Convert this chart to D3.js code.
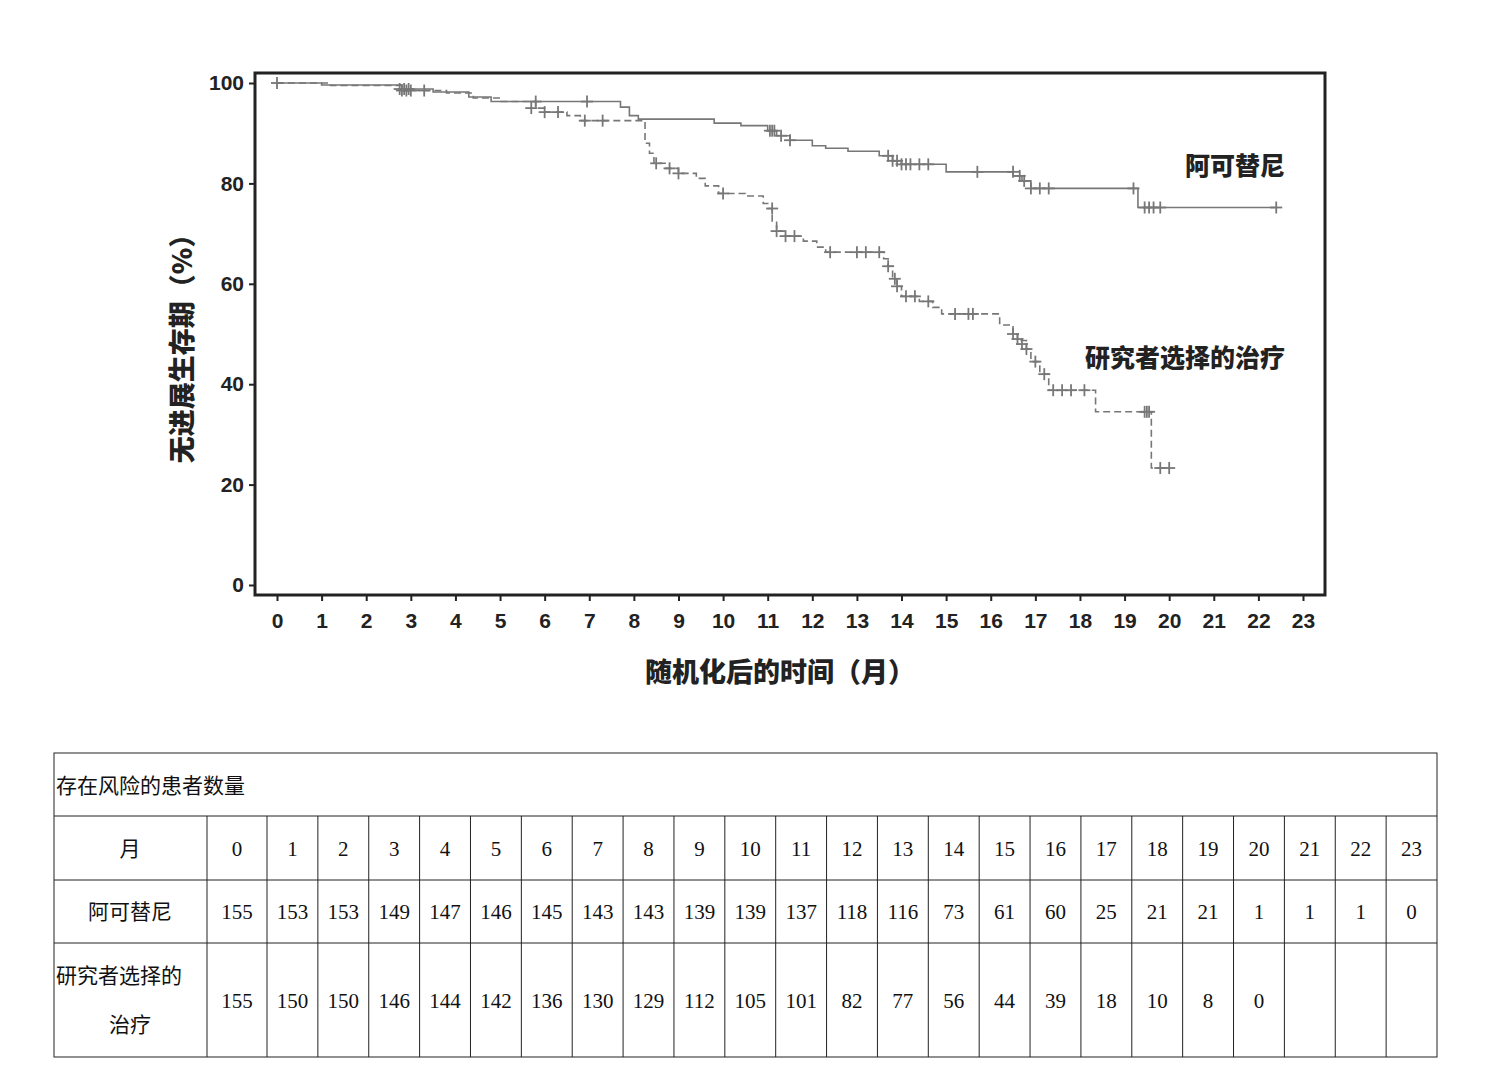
<!DOCTYPE html>
<html><head><meta charset="utf-8">
<script src="https://cdn.jsdelivr.net/npm/d3@7"></script>
<style>
body{margin:0;background:#fff}
.ax text{font-family:"Liberation Sans",Arial,sans-serif;font-weight:bold;font-size:21px;fill:#222}
.lab{font-family:"Noto Sans CJK SC",sans-serif;font-weight:900;font-size:25px;fill:#222}
.tb{font-family:"Liberation Serif","Noto Sans CJK SC",serif;font-size:21px;fill:#111}
</style></head><body>
<svg id="c" width="1497" height="1092"></svg>
<script>
// step data [month, percent]
const abemaSteps = [[0,100],[1.0,99.6],[2.8,98.8],[3.5,98.2],[4.3,97.2],[4.8,96.3],[7.7,95.2],[7.9,93.5],[8.1,92.8],[9.8,92.0],[10.4,91.5],[11.0,90.5],[11.2,89.5],[11.5,88.6],[12.0,87.5],[12.3,87],[12.8,86.4],[13.5,85.5],[13.8,84.5],[14.0,83.8],[15.0,82.3],[16.5,81.5],[16.7,80.5],[16.9,79],[19.3,75.2],[22.4,75.2]]
const abemaCensor = [[0,100],[2.75,98.8],[2.85,98.8],[2.95,98.8],[5.8,96.3],[6.95,96.3],[11.05,90.5],[11.1,90.5],[11.15,90.5],[11.3,89.5],[11.5,88.6],[13.7,85.5],[13.8,84.5],[13.9,84.5],[14.0,83.8],[14.1,83.8],[14.2,83.8],[14.4,83.8],[14.6,83.8],[15.7,82.3],[16.5,82.3],[16.65,81.5],[16.75,80.5],[16.9,79],[17.1,79],[17.3,79],[19.2,79],[19.45,75.2],[19.55,75.2],[19.65,75.2],[19.8,75.2],[22.4,75.2]]
const tpcSteps = [[0,100],[1.2,99.5],[2.8,98.5],[3.8,98],[4.4,97],[5.0,96.3],[5.8,95.0],[6.0,94.2],[6.5,93.5],[6.8,92.5],[8.25,88],[8.35,86],[8.45,84],[8.7,83],[9.0,82],[9.4,81],[9.6,79.5],[9.9,78],[10.5,77.5],[10.9,76],[11.0,75],[11.1,72.5],[11.2,70.5],[11.4,69.5],[11.8,68.5],[12.1,67.3],[12.3,66.3],[13.6,65],[13.7,63.5],[13.8,61],[13.9,59.5],[14.0,57.5],[14.4,56.5],[14.7,55.3],[14.9,54.0],[16.2,51.8],[16.5,50],[16.6,48.7],[16.8,47],[16.9,44.5],[17.1,42],[17.3,38.8],[18.35,34.5],[19.6,23.3],[20.0,23.3]]
const tpcCensor = [[2.8,98.5],[2.9,98.5],[3.0,98.5],[3.3,98.5],[5.7,95.0],[6.0,94.2],[6.3,94.2],[6.9,92.5],[7.3,92.5],[8.5,84],[8.8,83],[9.0,82],[10.0,78],[11.1,75],[11.2,70.5],[11.4,69.5],[11.6,69.5],[12.4,66.3],[13.0,66.3],[13.2,66.3],[13.5,66.3],[13.7,63.5],[13.85,61],[13.9,59.5],[14.1,57.5],[14.3,57.5],[14.6,56.5],[15.2,54],[15.5,54],[15.6,54],[16.5,50],[16.6,49],[16.7,48],[16.8,47],[17.0,44.5],[17.2,42],[17.4,38.8],[17.6,38.8],[17.8,38.8],[18.1,38.8],[19.45,34.5],[19.5,34.5],[19.55,34.5],[19.8,23.3],[20.0,23.3]]
const months = d3.range(0,24)
const atRiskAbema = [155,153,153,149,147,146,145,143,143,139,139,137,118,116,73,61,60,25,21,21,1,1,1,0]
const atRiskTpc = [155,150,150,146,144,142,136,130,129,112,105,101,82,77,56,44,39,18,10,8,0,null,null,null]

const svg = d3.select('#c')
const x = d3.scaleLinear().domain([0,23]).range([277,1303])
const y = d3.scaleLinear().domain([0,100]).range([585,83])
const col = '#777'

svg.append('rect').attr('x',255).attr('y',73).attr('width',1070).attr('height',522)
  .attr('fill','none').attr('stroke','#222').attr('stroke-width',3)

svg.append('g').attr('class','ax').attr('transform','translate(255,0)')
  .call(d3.axisLeft(y).tickValues([0,20,40,60,80,100]).tickSize(6).tickPadding(5))
  .call(g => g.select('.domain').remove())
svg.append('g').attr('class','ax').attr('transform','translate(0,595)')
  .call(d3.axisBottom(x).tickValues(months).tickSize(6).tickPadding(12))
  .call(g => g.select('.domain').remove())
svg.selectAll('.ax line').attr('stroke','#222').attr('stroke-width',2)

const line = d3.line().x(d => x(d[0])).y(d => y(d[1])).curve(d3.curveStepAfter)
svg.append('path').datum(abemaSteps).attr('d',line).attr('fill','none').attr('stroke',col).attr('stroke-width',1.6)
svg.append('path').datum(tpcSteps).attr('d',line).attr('fill','none').attr('stroke',col).attr('stroke-width',1.6).attr('stroke-dasharray','7,4')

function crosses(data) {
  const g = svg.append('g').attr('stroke',col).attr('stroke-width',1.8)
  g.selectAll('line.h').data(data).join('line')
    .attr('x1',d=>x(d[0])-6).attr('x2',d=>x(d[0])+6).attr('y1',d=>y(d[1])).attr('y2',d=>y(d[1]))
  g.selectAll('line.v').data(data).join('line')
    .attr('x1',d=>x(d[0])).attr('x2',d=>x(d[0])).attr('y1',d=>y(d[1])-6).attr('y2',d=>y(d[1])+6)
}
crosses(abemaCensor)
crosses(tpcCensor)

svg.append('text').attr('class','lab').attr('x',1285).attr('y',175).attr('text-anchor','end').text('阿可替尼')
svg.append('text').attr('class','lab').attr('x',1285).attr('y',367).attr('text-anchor','end').text('研究者选择的治疗')
svg.append('text').attr('class','lab').attr('x',780).attr('y',682).attr('text-anchor','middle').style('font-size','27px').text('随机化后的时间（月）')
svg.append('text').attr('class','lab').attr('transform','translate(192,342) rotate(-90)').attr('text-anchor','middle').style('font-size','27px').text('无进展生存期（%）')

// at-risk table
const tx0 = 54, tx1 = 1437, c0 = 207, c1 = 267
const cw = (tx1 - c1) / 23
const colX = i => i === 0 ? c0 : c1 + (i-1)*cw
const rowsY = [753, 816, 880, 943, 1057]
const tg = svg.append('g')
tg.append('rect').attr('x',tx0).attr('y',rowsY[0]).attr('width',tx1-tx0).attr('height',rowsY[4]-rowsY[0]).attr('fill','none').attr('stroke','#222')
rowsY.slice(1,4).forEach(v => tg.append('line').attr('x1',tx0).attr('x2',tx1).attr('y1',v).attr('y2',v).attr('stroke','#222'))
months.forEach((m,i) => tg.append('line').attr('x1',colX(i)).attr('x2',colX(i)).attr('y1',rowsY[1]).attr('y2',rowsY[4]).attr('stroke','#222'))
const cx = i => (colX(i) + (i === 23 ? tx1 : colX(i+1))) / 2
tg.append('text').attr('class','tb').attr('x',56).attr('y',793).text('存在风险的患者数量')
tg.append('text').attr('class','tb').attr('x',130).attr('y',856).attr('text-anchor','middle').text('月')
tg.append('text').attr('class','tb').attr('x',130).attr('y',919).attr('text-anchor','middle').text('阿可替尼')
tg.append('text').attr('class','tb').attr('x',56).attr('y',983).text('研究者选择的')
tg.append('text').attr('class','tb').attr('x',130).attr('y',1032).attr('text-anchor','middle').text('治疗')
const rowText = (vals, yy) => vals.forEach((v,i) => { if (v !== null)
  tg.append('text').attr('class','tb').attr('x',cx(i)).attr('y',yy).attr('text-anchor','middle').text(v) })
rowText(months, 856)
rowText(atRiskAbema, 919)
rowText(atRiskTpc, 1008)
</script></body></html>
